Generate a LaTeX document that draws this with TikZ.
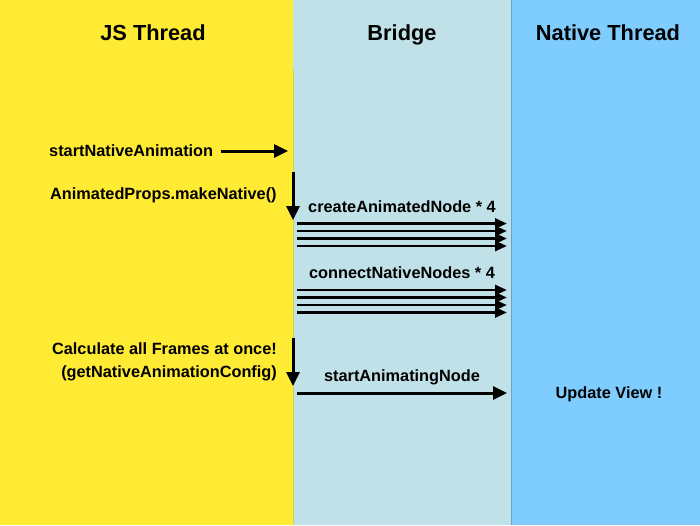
\documentclass[tikz,border=0pt]{standalone}
\usepackage{fontspec}
\setmainfont{Liberation Sans}
\usetikzlibrary{arrows.meta}
\definecolor{jsy}{HTML}{FFEB33}
\definecolor{brg}{HTML}{C1E1E8}
\definecolor{nat}{HTML}{7FCDFE}
\tikzset{
  hdr/.style={font=\bfseries\fontsize{21.8}{26}\selectfont, inner sep=0pt, anchor=base},
  lbl/.style={font=\bfseries\fontsize{16.3}{23}\selectfont, inner sep=0pt},
  arr/.style={line width=3pt, -{Triangle[length=14pt,width=13pt]}},
  thin/.style={line width=2.8pt, -{Triangle[length=12pt,width=10pt]}}
}
\begin{document}
\begin{tikzpicture}[x=1pt,y=-1pt]
\useasboundingbox (0,0) rectangle (700,525);
\fill[jsy] (0,0) rectangle (293,525);
\fill[brg] (293,0) rectangle (511,525);
\fill[nat] (511,0) rectangle (700,525);
\draw[brg!70!black!40!jsy, line width=0.8pt] (293,70) -- (293,525);
\draw[nat!80!black, line width=0.8pt] (511,0) -- (511,525);

\node[hdr] (hjs) at (153,40) {JS Thread};
\node[hdr] (hbr) at (402,40) {Bridge};
\node[hdr] (hnt) at (608,40) {Native Thread};

\node[lbl, anchor=west] (sna) at (49,151) {startNativeAnimation};
\coordinate (sna1) at (221,151);
\coordinate (sna2) at (288,151);
\draw[arr] (sna1) -- (sna2);

\node[lbl, anchor=west] (amn) at (50,195) {AnimatedProps.makeNative()};
\coordinate (v1a) at (293,172);
\coordinate (v1b) at (293,220);
\draw[arr] (v1a) -- (v1b);

\node[lbl] (can) at (402,207) {createAnimatedNode * 4};
\foreach \y [count=\i] in {223.5,231,238.5,246}{
  \coordinate (ca\i) at (297,\y);
  \coordinate (cb\i) at (507,\y);
  \draw[thin] (ca\i) -- (cb\i);
}

\node[lbl] (cnn) at (402,273) {connectNativeNodes * 4};
\foreach \y [count=\i] in {290,297.5,305,312.5}{
  \coordinate (na\i) at (297,\y);
  \coordinate (nb\i) at (507,\y);
  \draw[thin] (na\i) -- (nb\i);
}

\node[lbl, anchor=east, align=right] (calc) at (277,362) {Calculate all Frames at once!\\(getNativeAnimationConfig)};
\coordinate (v2a) at (293,338);
\coordinate (v2b) at (293,386);
\draw[arr] (v2a) -- (v2b);

\node[lbl] (san) at (402,377) {startAnimatingNode};
\coordinate (sa1) at (297,393);
\coordinate (sa2) at (507,393);
\draw[arr] (sa1) -- (sa2);

\node[lbl] (upd) at (609,394) {Update View !};
\end{tikzpicture}
\end{document}
